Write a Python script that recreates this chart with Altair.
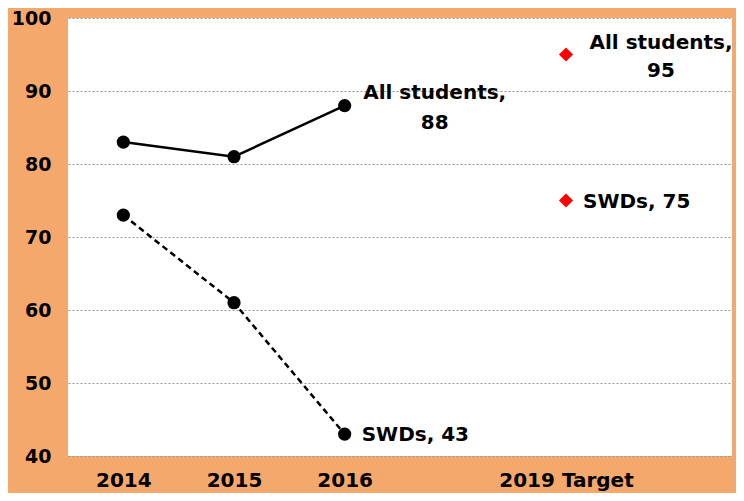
import altair as alt
import pandas as pd

# Data
x_domain = ["2014", "2015", "2016", " ", "2019 Target", "  "]
years = ["2014", "2015", "2016"]
all_students = [83, 81, 88]
swds = [73, 61, 43]
target_cat = ["2019 Target", "2019 Target"]
target_values = [95, 75]

multi_cats = ["2016", "2019 Target"]
multi_vals = [88, 95]
multi_text = ["All students,\n88", "All students,\n95"]
multi_dx = [90, 95]

single_cats = ["2016", "2019 Target"]
single_vals = [43, 75]
single_text = ["SWDs, 43", "SWDs, 75"]

FONT = "DejaVu Sans"
ORANGE = "#F4A86C"

all_df = pd.DataFrame({"x": years, "y": all_students})
swd_df = pd.DataFrame({"x": years, "y": swds})
tgt_df = pd.DataFrame({"x": target_cat, "y": target_values})
multi_df = pd.DataFrame({"x": multi_cats, "y": multi_vals, "t": multi_text})
single_df = pd.DataFrame({"x": single_cats, "y": single_vals, "t": single_text})

xenc = alt.X(
    "x:N",
    scale=alt.Scale(type="point", domain=x_domain, padding=0.5),
    axis=alt.Axis(title=None, labelAngle=0, ticks=False, domain=False, grid=False,
                  labelFont=FONT, labelFontSize=20, labelFontWeight="bold",
                  labelColor="black", labelPadding=14),
)
yenc = alt.Y(
    "y:Q",
    scale=alt.Scale(domain=[40, 100], nice=False, zero=False),
    axis=alt.Axis(title=None, values=[40, 50, 60, 70, 80, 90, 100], ticks=False,
                  domain=False, grid=True, gridColor="#999999", gridDash=[2, 2],
                  gridWidth=1, labelFont=FONT, labelFontSize=19,
                  labelFontWeight="bold", labelColor="black", labelPadding=17),
)

line_all = alt.Chart(all_df).mark_line(color="black", strokeWidth=2.5).encode(x=xenc, y=yenc)
pts_all = alt.Chart(all_df).mark_point(filled=True, color="black", size=175, opacity=1).encode(x=xenc, y=yenc)
line_swd = alt.Chart(swd_df).mark_line(color="black", strokeWidth=2.5, strokeDash=[6, 4]).encode(x=xenc, y=yenc)
pts_swd = alt.Chart(swd_df).mark_point(filled=True, color="black", size=175, opacity=1).encode(x=xenc, y=yenc)
pts_tgt = alt.Chart(tgt_df).mark_point(filled=True, shape="diamond", color="#FF0000", size=200, opacity=1).encode(x=xenc, y=yenc)

txt_multi_a = alt.Chart(multi_df.iloc[[0]]).mark_text(
    align="center", baseline="middle", dx=multi_dx[0], dy=-13, lineBreak="\n", lineHeight=30,
    font=FONT, fontSize=20, fontWeight="bold", color="black"
).encode(x=xenc, y=yenc, text="t:N")
txt_multi_b = alt.Chart(multi_df.iloc[[1]]).mark_text(
    align="center", baseline="middle", dx=multi_dx[1], dy=-12, lineBreak="\n", lineHeight=28,
    font=FONT, fontSize=20, fontWeight="bold", color="black"
).encode(x=xenc, y=yenc, text="t:N")
txt_single = alt.Chart(single_df).mark_text(
    align="left", baseline="middle", dx=17, dy=1,
    font=FONT, fontSize=20, fontWeight="bold", color="black"
).encode(x=xenc, y=yenc, text="t:N")

chart = alt.layer(
    line_all, line_swd, pts_all, pts_swd, pts_tgt, txt_multi_a, txt_multi_b, txt_single
).properties(
    width=664, height=438,
    autosize=alt.AutoSizeParams(type="none"),
    padding={"left": 60, "top": 10, "right": 4, "bottom": 37},
    background=ORANGE,
).configure_view(fill="white", stroke=None)

chart.save("out.html", embed_options={"renderer": "svg", "actions": False})
